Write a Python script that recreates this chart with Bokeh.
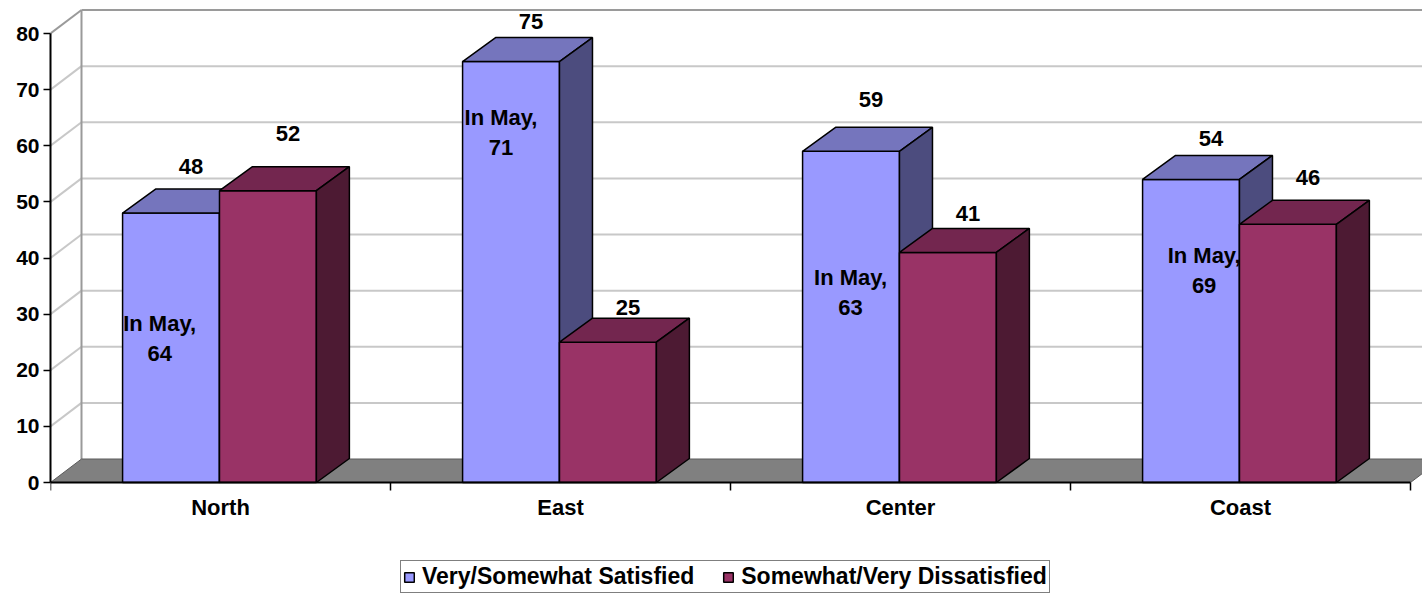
from bokeh.plotting import figure
from bokeh.models import Range1d, FixedTicker, LinearAxis, Legend, LegendItem, ColumnDataSource
from bokeh.core.properties import value
from bokeh.embed import file_html
from bokeh.resources import INLINE

# ---- data -------------------------------------------------------------
regions = ["North", "East", "Center", "Coast"]
satisfied = [48, 75, 59, 54]
dissatisfied = [52, 25, 41, 46]
may_satisfied = [64, 71, 63, 69]
y_ticks = [0, 10, 20, 30, 40, 50, 60, 70, 80]
series_names = ["Very/Somewhat Satisfied", "Somewhat/Very Dissatisfied"]

# ---- styling / layout -------------------------------------------------
W, H = 1422, 595
LEFT = 50
ZERO_PX = 482      # canvas row of the value 0
PX_X = 340.0       # pixels per category
PX_Y = 5.6125      # pixels per percentage point
FONT_NAME = "Liberation Sans"
FONT = value(FONT_NAME)

x_end = (W - LEFT) / PX_X
y_start = -(H - ZERO_PX) / PX_Y
y_end = ZERO_PX / PX_Y

bar_dx, bar_dy = 33 / PX_X, 24 / PX_Y      # depth of the columns
wall_dx, wall_dy = 31 / PX_X, 23.5 / PX_Y  # depth of walls and floor

# column edges relative to each category centre
bar_span = {"sat": (-0.288, -0.003), "dis": (-0.003, 0.282)}
colors = {
    "sat": ("#9999FF", "#7575BD", "#4C4C7E"),   # front, top, side
    "dis": ("#993366", "#73264F", "#4D1A33"),
}
# how far each value label sits above its column (px)
lift_sat = [47, 40, 52, 41]
lift_dis = [57, 35, 39, 47]
# "In May" notes, relative to category centre (x) and in value units (y)
note_dx = [-0.179, -0.175, -0.147, -0.107]
note_y = [25.7, 62.3, 33.9, 37.7]

p = figure(width=W, height=H, x_range=Range1d(0, x_end), y_range=Range1d(y_start, y_end),
           output_backend="svg", toolbar_location=None, title=None,
           min_border_left=LEFT, min_border_right=0, min_border_top=0,
           min_border_bottom=0, x_axis_location=None, y_axis_location=None)
p.grid.visible = False
p.outline_line_color = None
p.background_fill_color = "white"
p.border_fill_color = "white"

# ---- walls and floor --------------------------------------------------
grid_vals = [v for v in y_ticks if 0 < v < y_ticks[-1]]
top_val = y_ticks[-1]
# side wall (diagonals) and back wall (horizontals)
p.segment(x0=[0] * len(grid_vals), y0=grid_vals,
          x1=[wall_dx] * len(grid_vals), y1=[v + wall_dy for v in grid_vals],
          line_color="#C8C8C8", line_width=2)
p.segment(x0=[wall_dx] * len(grid_vals), y0=[v + wall_dy for v in grid_vals],
          x1=[x_end + 1] * len(grid_vals), y1=[v + wall_dy for v in grid_vals],
          line_color="#C8C8C8", line_width=2)
# wall outline
p.segment(x0=[0, wall_dx, wall_dx], y0=[top_val, top_val + wall_dy, wall_dy],
          x1=[wall_dx, x_end + 1, wall_dx], y1=[top_val + wall_dy, top_val + wall_dy, top_val + wall_dy],
          line_color="#9A9A9A", line_width=2)
# floor
n_cat = len(regions)
p.patch(x=[0, n_cat, n_cat + wall_dx, wall_dx], y=[0, 0, wall_dy, wall_dy],
        fill_color="#808080", line_color="#5A5A5A", line_width=1)


# ---- columns ----------------------------------------------------------
def faces(key, vals):
    lo, hi = bar_span[key]
    front, top, side = dict(xs=[], ys=[]), dict(xs=[], ys=[]), dict(xs=[], ys=[])
    for i, v in enumerate(vals):
        c = i + 0.5
        x0, x1 = c + lo, c + hi
        front["xs"].append([x0, x1, x1, x0])
        front["ys"].append([0, 0, v, v])
        top["xs"].append([x0, x1, x1 + bar_dx, x0 + bar_dx])
        top["ys"].append([v, v, v + bar_dy, v + bar_dy])
        side["xs"].append([x1, x1 + bar_dx, x1 + bar_dx, x1])
        side["ys"].append([0, bar_dy, v + bar_dy, v])
    return front, top, side


def draw_columns(key, vals):
    front, top, side = faces(key, vals)
    cf, ct, cs = colors[key]
    rf = p.patches(xs="xs", ys="ys", source=ColumnDataSource(front),
                   fill_color=cf, line_color="black", line_width=1.5)
    p.patches(xs="xs", ys="ys", source=ColumnDataSource(top),
              fill_color=ct, line_color="black", line_width=1.5)
    p.patches(xs="xs", ys="ys", source=ColumnDataSource(side),
              fill_color=cs, line_color="black", line_width=1.5)
    return rf


text_style = dict(text_font=FONT, text_font_style="bold", text_font_size="22px",
                  text_color="black", text_align="center", text_baseline="middle")

r_sat = draw_columns("sat", satisfied)

# notes with the May figure, drawn under the second series
note_x = [i + 0.5 + d for i, d in enumerate(note_dx)]
p.text(x=note_x, y=note_y, text=["In May,"] * n_cat, y_offset=-15, **text_style)
p.text(x=note_x, y=note_y, text=[str(v) for v in may_satisfied], y_offset=15, **text_style)

r_dis = draw_columns("dis", dissatisfied)

# value labels
for key, vals, lifts in (("sat", satisfied, lift_sat), ("dis", dissatisfied, lift_dis)):
    lo, hi = bar_span[key]
    xs = [i + 0.5 + (lo + hi) / 2 for i in range(n_cat)]
    src = ColumnDataSource(dict(x=xs, y=vals, t=[str(v) for v in vals],
                                dy=[-l for l in lifts]))
    p.text(x="x", y="y", text="t", x_offset=20, y_offset="dy", source=src, **text_style)

# ---- axes -------------------------------------------------------------
yaxis = LinearAxis(ticker=FixedTicker(ticks=y_ticks), bounds=(0, top_val),
                   axis_line_color="black", axis_line_width=2,
                   major_tick_line_color="black", major_tick_line_width=1.5,
                   major_tick_out=7, major_tick_in=0,
                   minor_tick_line_color=None, major_label_standoff=4,
                   major_label_text_font=FONT_NAME, major_label_text_font_style="bold",
                   major_label_text_font_size="21px", major_label_text_color="black")
p.add_layout(yaxis, "left")

# category axis pinned to the value 0 (the front edge of the floor)
centers = [i + 0.5 for i in range(n_cat)]
xaxis = LinearAxis(ticker=FixedTicker(ticks=centers, minor_ticks=list(range(n_cat + 1))),
                   bounds=(0, n_cat), fixed_location=0,
                   major_label_overrides={c: r for c, r in zip(centers, regions)},
                   axis_line_color="black", axis_line_width=2,
                   major_tick_line_color=None, major_tick_out=0, major_tick_in=0,
                   minor_tick_line_color="black", minor_tick_line_width=1.5,
                   minor_tick_out=8, minor_tick_in=0, major_label_standoff=4,
                   major_label_text_font=FONT_NAME, major_label_text_font_style="bold",
                   major_label_text_font_size="22px", major_label_text_color="black")
p.add_layout(xaxis, "below")

# ---- legend -----------------------------------------------------------
legend = Legend(items=[LegendItem(label=series_names[0], renderers=[r_sat], index=0),
                       LegendItem(label=series_names[1], renderers=[r_dis], index=0)],
                orientation="horizontal", location=(350, 2),
                border_line_color="black", border_line_width=1.5,
                background_fill_color="white", background_fill_alpha=1.0,
                padding=2, spacing=28, margin=0,
                glyph_width=12, glyph_height=12, label_standoff=7, label_height=20,
                label_text_font=FONT_NAME, label_text_font_style="bold",
                label_text_font_size="23px", label_text_color="black")
p.add_layout(legend, "center")

open("out.html", "w").write(file_html(p, INLINE))
